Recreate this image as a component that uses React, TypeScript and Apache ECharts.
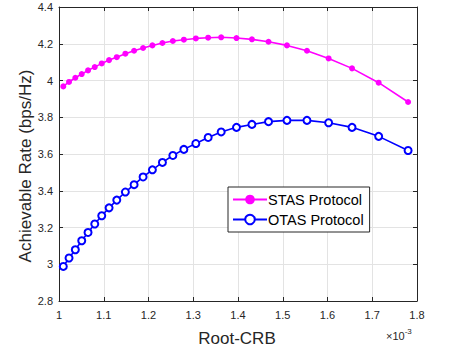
import React, { useEffect, useRef } from "react";
import * as echarts from "echarts";

const crbValues = [1.0096, 1.0224, 1.0365, 1.0508, 1.0649, 1.0799, 1.0955, 1.1119, 1.1291, 1.1483, 1.1678, 1.1879, 1.2087, 1.2311, 1.2544, 1.279, 1.3058, 1.3333, 1.3624, 1.3966, 1.4311, 1.4682, 1.5094, 1.5541, 1.6025, 1.6548, 1.7143, 1.7801];
const stasRates = [3.968, 3.992, 4.015, 4.035, 4.055, 4.073, 4.093, 4.111, 4.127, 4.146, 4.162, 4.177, 4.191, 4.204, 4.215, 4.222, 4.229, 4.233, 4.235, 4.231, 4.224, 4.211, 4.191, 4.162, 4.12, 4.066, 3.988, 3.883];
const otasRates = [2.988, 3.034, 3.079, 3.128, 3.173, 3.219, 3.264, 3.307, 3.349, 3.393, 3.433, 3.475, 3.514, 3.554, 3.592, 3.625, 3.657, 3.69, 3.72, 3.745, 3.761, 3.776, 3.783, 3.783, 3.77, 3.745, 3.696, 3.619];
const seriesNames = ["STAS Protocol", "OTAS Protocol"];
const xAxisTitle = "Root-CRB";
const yAxisTitle = "Achievable Rate (bps/Hz)";

const FONT = "'Liberation Sans', Arial, Helvetica, sans-serif";
const TXT = "#262626";

export default function App() {
  const ref = useRef<HTMLDivElement>(null);
  useEffect(() => {
    if (!ref.current) return;
    const chart = echarts.init(ref.current, undefined, { renderer: "svg" });
    const pair = (ys: number[]) => crbValues.map((x, i) => [x, ys[i]]);
    const axisCommon = {
      type: "value" as const,
      axisLine: { show: true, lineStyle: { color: TXT, width: 1 } },
      axisTick: { show: true, inside: true, length: 4, lineStyle: { color: TXT } },
    };
    chart.setOption({
      animation: false,
      textStyle: { fontFamily: FONT },
      grid: { left: 59, top: 7, right: 33, bottom: 51, containLabel: false },
      xAxis: [
        {
          ...axisCommon,
          min: 1,
          max: 1.8,
          interval: 0.1,
          position: "bottom",
          axisLabel: { color: TXT, fontSize: 11, fontFamily: FONT, margin: 8 },
          splitLine: { show: true, lineStyle: { color: "#e3e3e3", width: 1 } },
        },
        {
          ...axisCommon,
          min: 1,
          max: 1.8,
          interval: 0.1,
          position: "top",
          axisLabel: { show: false },
          splitLine: { show: false },
        },
      ],
      yAxis: [
        {
          ...axisCommon,
          min: 2.8,
          max: 4.4,
          interval: 0.2,
          position: "left",
          axisLabel: { color: TXT, fontSize: 11, fontFamily: FONT, margin: 6 },
          splitLine: { show: true, lineStyle: { color: "#e3e3e3", width: 1 } },
        },
        {
          ...axisCommon,
          min: 2.8,
          max: 4.4,
          interval: 0.2,
          position: "right",
          axisLabel: { show: false },
          splitLine: { show: false },
        },
      ],
      legend: {
        orient: "vertical",
        left: 228,
        top: 187,
        backgroundColor: "#ffffff",
        borderColor: "#262626",
        borderWidth: 1,
        borderRadius: 0,
        padding: [5, 6, 5, 4],
        itemGap: 5,
        itemWidth: 34,
        itemHeight: 12,
        textStyle: { color: "#000", fontSize: 14.5, fontFamily: FONT, padding: [0, 0, 0, -4] },
        data: seriesNames,
      },
      series: [
        {
          name: seriesNames[0],
          type: "line",
          data: pair(stasRates),
          symbol: "circle",
          symbolSize: 6,
          itemStyle: { color: "#ff00ff" },
          lineStyle: { color: "#ff00ff", width: 1.6 },
          z: 3,
        },
        {
          name: seriesNames[1],
          type: "line",
          data: pair(otasRates),
          symbol: "emptyCircle",
          symbolSize: 7,
          itemStyle: { color: "#0000ff", borderWidth: 1.6, borderColor: "#0000ff" },
          lineStyle: { color: "#0000ff", width: 1.6 },
          z: 3,
        },
      ],
      graphic: [
        {
          type: "text",
          x: 237,
          y: 338,
          style: {
            text: xAxisTitle,
            fill: TXT,
            fontSize: 17,
            fontFamily: FONT,
            align: "center",
            verticalAlign: "middle",
          },
        },
        {
          type: "text",
          x: 25,
          y: 166,
          rotation: Math.PI / 2,
          style: {
            text: yAxisTitle,
            fill: TXT,
            fontSize: 17,
            fontFamily: FONT,
            align: "center",
            verticalAlign: "middle",
          },
        },
        {
          type: "text",
          x: 386,
          y: 327,
          style: {
            text: "{a|×10}{b|-3}",
            rich: {
              a: { fontSize: 11, fill: TXT, fontFamily: FONT, verticalAlign: "bottom", lineHeight: 14, padding: [6, 0, 0, 0] },
              b: { fontSize: 8, fill: TXT, fontFamily: FONT, verticalAlign: "top", lineHeight: 10 },
            },
          },
        },
      ],
    });
    return () => chart.dispose();
  }, []);
  return <div ref={ref} style={{ width: 450, height: 352, position: "absolute", left: 0, top: 0 }} />;
}
